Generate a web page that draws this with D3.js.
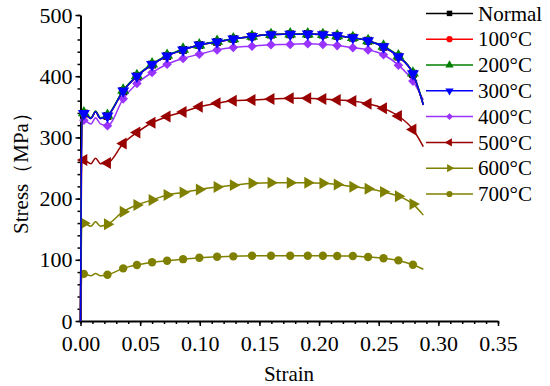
<!DOCTYPE html>
<html>
<head>
<meta charset="utf-8">
<script src="https://cdn.jsdelivr.net/npm/d3@7"></script>
<style>
	body { margin: 0; background: #fff; }
	text { font-family: "Liberation Serif", "Times New Roman", serif; fill: #000; }
</style>
</head>
<body>
<svg id="chart" width="550" height="386"></svg>
<script>
// strain of the marker points (shared by every curve)
var markerStrain = [0.0028, 0.0226, 0.0358, 0.0473, 0.0600, 0.0726, 0.0860, 0.0996, 0.1145, 0.1281,
	0.1438, 0.1597, 0.1758, 0.1905, 0.2032, 0.2152, 0.2283, 0.2411, 0.2540, 0.2665, 0.2787];
// small yield-plateau wiggle between the first two markers
var wiggleStrain = [0.0088, 0.0126, 0.0167];
var riseStrain = 0.0012;
var endStrain = 0.2874;

var seriesNames = ["Normal", "100°C", "200°C", "300°C", "400°C", "500°C", "600°C", "700°C"];
var seriesColors = ["#000000", "#ff0000", "#008000", "#0000ff", "#9933ff", "#990000", "#808000", "#808000"];
var seriesSymbols = ["square", "circle", "up", "down", "diamond", "left", "right", "circle"];

// stress (MPa) at the marker points
var stressNormal = [339, 335, 376, 400, 419, 433, 443, 451, 456, 461, 465, 468, 468.5, 469, 468, 466, 463, 458, 448, 432, 404];
var stress100 = [339, 335, 376, 400, 419, 433, 443, 451, 456, 461, 465, 468, 468.5, 469, 468, 466, 463, 458, 448, 432, 404];
var stress200 = [340, 336, 377, 401, 420, 434, 444, 451, 457, 461, 465, 468, 469, 469, 468, 466, 463, 458, 449, 433, 405];
var stress300 = [339, 335, 376, 400, 419, 433, 443, 451, 456, 461, 465, 468, 468.5, 469, 468, 466, 463, 458, 448, 432, 404];
var stress400 = [328, 319, 363, 388, 406, 419.5, 429, 436, 443, 447, 449, 451.5, 452, 453, 452, 450, 446.5, 443, 435, 418, 392];
var stress500 = [263, 258, 290, 308, 324, 334, 341.5, 350, 355.7, 360, 361, 362.7, 364, 364, 362.7, 361, 359.5, 355, 347.5, 335, 313];
var stress600 = [159.6, 158, 178.6, 189.5, 197.7, 206, 210, 215, 219, 222, 225, 226, 226, 226, 225, 223, 219.5, 216, 211, 204, 191];
var stress700 = [77, 75.5, 86, 91.5, 96, 98.5, 101, 103.4, 105, 105.7, 106.7, 106.7, 106.7, 106.7, 106.7, 106.2, 106.2, 104.5, 102.5, 99, 92];
var stressSets = [stressNormal, stress100, stress200, stress300, stress400, stress500, stress600, stress700];

var wiggleStress = [
	[331, 342, 331], [331, 342, 331], [332, 343, 332], [331, 342, 331],
	[322, 332, 322], [257, 266, 257], [155, 162, 155], [74, 77.5, 74]
];
var endStress = [353, 353, 354, 353, 361, 285, 173, 84.5];

var xTicks = [0, 0.05, 0.10, 0.15, 0.20, 0.25, 0.30, 0.35];
var yTicks = [0, 100, 200, 300, 400, 500];

var svg = d3.select("#chart");
svg.append("rect").attr("width", 550).attr("height", 386).attr("fill", "#fff");

var xScale = d3.scaleLinear().domain([0, 0.35]).range([80.5, 498]);
var yScale = d3.scaleLinear().domain([0, 500]).range([321, 15]);

// Osie: minor ticks first, then major with labels
var xMinor = d3.range(0, 0.3501, 0.01);
var yMinor = d3.range(0, 501, 20);

svg.append("g")
	.attr("transform", "translate(0,321)")
	.call(d3.axisBottom(xScale).tickValues(xMinor).tickSize(3).tickFormat(""))
	.call(function (g) { g.select(".domain").remove(); })
	.selectAll("line").attr("stroke-width", 1.5);

svg.append("g")
	.attr("transform", "translate(80.5,0)")
	.call(d3.axisLeft(yScale).tickValues(yMinor).tickSize(3).tickFormat(""))
	.call(function (g) { g.select(".domain").remove(); })
	.selectAll("line").attr("stroke-width", 1.5);

var xAxis = svg.append("g")
	.attr("transform", "translate(0,321)")
	.call(d3.axisBottom(xScale).tickValues(xTicks).tickSize(5).tickSizeOuter(0).tickFormat(d3.format(".2f")));
xAxis.select(".domain").attr("stroke-width", 2);
xAxis.selectAll("line").attr("stroke-width", 1.5);
xAxis.selectAll("text").attr("font-size", 22).attr("dy", "1.0em")
	.style("font-family", "Liberation Serif");

var yAxis = svg.append("g")
	.attr("transform", "translate(80.5,0)")
	.call(d3.axisLeft(yScale).tickValues(yTicks).tickSize(5).tickSizeOuter(0));
yAxis.select(".domain").attr("stroke-width", 2);
yAxis.selectAll("line").attr("stroke-width", 1.5);
yAxis.selectAll("text").attr("font-size", 22).attr("x", -8)
	.style("font-family", "Liberation Serif");

// Tytuły osi
svg.append("text")
	.attr("x", 289).attr("y", 381)
	.attr("text-anchor", "middle")
	.attr("font-size", 21)
	.text("Strain");

svg.append("text")
	.attr("transform", "translate(28,168) rotate(-90)")
	.attr("text-anchor", "middle")
	.attr("font-size", 21)
	.text("Stress（MPa）");

function symbolPath(kind, size) {
	var type = d3.symbolTriangle;
	if (kind === "square" || kind === "diamond") type = d3.symbolSquare;
	if (kind === "circle") type = d3.symbolCircle;
	return d3.symbol().type(type).size(size)();
}
function symbolRotate(kind) {
	if (kind === "down") return 180;
	if (kind === "diamond") return 45;
	if (kind === "left") return -90;
	if (kind === "right") return 90;
	return 0;
}

var line = d3.line()
	.x(function (d) { return xScale(d[0]); })
	.y(function (d) { return yScale(d[1]); })
	.curve(d3.curveMonotoneX);

// Krzywe - rysowane od ostatniej, aby niebieska była nad czarną/czerwoną/zieloną
var order = [7, 6, 5, 4, 0, 1, 2, 3];
order.forEach(function (i) {
	var m = stressSets[i];
	var pts = [[0, 0], [riseStrain, m[0]], [markerStrain[0], m[0]]];
	wiggleStrain.forEach(function (s, k) { pts.push([s, wiggleStress[i][k]]); });
	for (var k = 1; k < markerStrain.length; k++) pts.push([markerStrain[k], m[k]]);
	pts.push([endStrain, endStress[i]]);

	var g = svg.append("g");
	g.append("path")
		.datum(pts)
		.attr("d", line)
		.attr("fill", "none")
		.attr("stroke", seriesColors[i])
		.attr("stroke-width", 1.5);

	var big = seriesSymbols[i] === "circle" ? 55 : (seriesSymbols[i] === "diamond" ? 46 : 62);
	g.selectAll("path.mk")
		.data(markerStrain)
		.enter()
		.append("path")
		.attr("class", "mk")
		.attr("d", symbolPath(seriesSymbols[i], big))
		.attr("transform", function (d, k) {
			return "translate(" + xScale(d) + "," + yScale(m[k]) + ") rotate(" + symbolRotate(seriesSymbols[i]) + ")";
		})
		.attr("fill", seriesColors[i]);
});

// Legenda
var legend = svg.append("g");
seriesNames.forEach(function (name, i) {
	var y = 13.4 + i * 25.8;
	legend.append("line")
		.attr("x1", 426).attr("x2", 473)
		.attr("y1", y).attr("y2", y)
		.attr("stroke", seriesColors[i])
		.attr("stroke-width", 1.5);
	var small = seriesSymbols[i] === "diamond" ? 24 : 30;
	legend.append("path")
		.attr("d", symbolPath(seriesSymbols[i], small))
		.attr("transform", "translate(449.5," + y + ") rotate(" + symbolRotate(seriesSymbols[i]) + ")")
		.attr("fill", seriesColors[i]);
	legend.append("text")
		.attr("x", 478).attr("y", y)
		.attr("dy", "0.34em")
		.attr("font-size", 21)
		.text(name);
});
</script>
</body>
</html>
